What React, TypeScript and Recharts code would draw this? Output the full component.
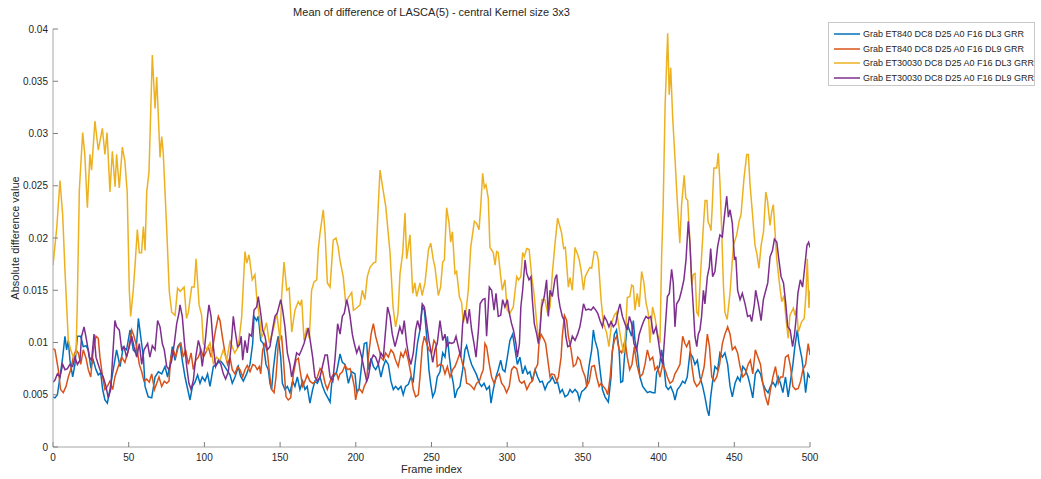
import React from 'react';
import { LineChart, Line, XAxis, YAxis } from 'recharts';

const seriesNames = [
  'Grab ET840 DC8 D25 A0 F16 DL3 GRR',
  'Grab ET840 DC8 D25 A0 F16 DL9 GRR',
  'Grab ET30030 DC8 D25 A0 F16 DL3 GRR',
  'Grab ET30030 DC8 D25 A0 F16 DL9 GRR',
];
const seriesColors = ['#0072BD', '#D95319', '#EDB120', '#7E2F8E'];

const xTicks = [0, 50, 100, 150, 200, 250, 300, 350, 400, 450, 500];
const yTicks = [0, 0.005, 0.01, 0.015, 0.02, 0.025, 0.03, 0.035, 0.04];
const yTickLabels = ['0', '0.005', '0.01', '0.015', '0.02', '0.025', '0.03', '0.035', '0.04'];

// [frame index, absolute difference value]
const et840Dl3: [number, number][] = [
  [0,.0048],[1.3,.0047],[2.9,.005],[4.6,.0067],[6.4,.0086],[7.9,.0106],[9,.0093],[10.1,.0102],[11.2,.0083],[13,.0067],[14.5,.0079],[16.1,.0106],[18.3,.0106],[20,.0096],[21.8,.0097],[23.3,.0093],[24.9,.0077],[26.6,.0083],[28.4,.0074],[29.9,.0069],[31.5,.0071],[32.8,.0055],[34.3,.0045],[35.9,.0042],[37.6,.0055],[39.8,.0074],[42,.0093],[44.3,.0077],[46.4,.0096],[48.6,.0093],[50.9,.0112],[53,.0093],[54.8,.009],[56.4,.0123],[57.9,.0106],[59.7,.0086],[60.8,.0058],[62.9,.0048],[65.2,.0047],[67.4,.0067],[69.6,.0072],[71.8,.007],[74,.0077],[75.7,.0067],[77.3,.0079],[78.8,.0096],[80.6,.0083],[82.4,.0096],[83.9,.0099],[85.4,.0083],[87.2,.0067],[89,.0055],[90.5,.0045],[92.1,.0058],[93.8,.0062],[95.5,.0069],[97.1,.0061],[98.6,.0067],[100.4,.0063],[102.1,.007],[103.7,.0058],[105.9,.0077],[108.1,.0079],[110.3,.0083],[112.5,.0079],[114.7,.0074],[116.9,.0069],[118.4,.0061],[120.2,.0067],[122.4,.0077],[123.8,.0068],[125.7,.0063],[127.9,.007],[130.1,.0079],[131.9,.0099],[132.8,.0125],[134.5,.0121],[135.6,.0125],[137.2,.0102],[138.9,.0099],[140.7,.0079],[142.2,.0074],[143.3,.0061],[144.4,.0055],[145.5,.0074],[147.3,.0096],[148.8,.0106],[150.4,.0086],[151.5,.0061],[153.2,.0055],[154.8,.0058],[156.5,.0052],[158.3,.0063],[159.8,.0058],[161.4,.0067],[163.1,.0055],[164.9,.0063],[166.4,.0055],[167.9,.0058],[169.7,.0042],[171.5,.0055],[173,.0063],[174.6,.0061],[176.4,.0067],[178.1,.0058],[179.7,.0052],[181.2,.0048],[183,.0043],[184.1,.0061],[185.2,.0067],[187.4,.0072],[189.6,.0089],[191.1,.0081],[192.9,.0079],[195.1,.0061],[197.3,.0072],[199.5,.007],[200.6,.0052],[202.1,.0055],[203.9,.0079],[205.6,.0099],[207.2,.01],[208.3,.0074],[210.1,.0085],[211.6,.0077],[213.1,.0074],[214.9,.0079],[216.6,.0067],[218.2,.0077],[219.7,.0083],[221.5,.0079],[223.2,.0063],[224.8,.0055],[226.3,.0058],[228,.0055],[229.8,.0058],[231.3,.005],[232.9,.0058],[234.7,.006],[236.4,.0067],[238,.0063],[239.1,.0079],[240.8,.01],[242.4,.0112],[243.9,.0134],[245.3,.0131],[246.8,.0106],[248.3,.0074],[249.5,.006],[250.8,.0048],[252.3,.0053],[253.8,.0067],[255.6,.0072],[257.4,.009],[258.9,.0086],[260.5,.0106],[261.8,.0086],[263.3,.0069],[264.4,.0061],[265.5,.0047],[267.1,.0055],[268.8,.0058],[270.6,.0074],[272.1,.0093],[273.2,.0097],[275,.0086],[276.5,.0079],[278.1,.0074],[279.8,.0069],[281.6,.0061],[283.1,.0058],[284.7,.0061],[286.4,.0055],[288.2,.0058],[289.3,.0042],[290.8,.0055],[292.6,.0067],[294.1,.0074],[295.7,.0083],[297,.0074],[298.5,.0072],[300.1,.0086],[301.8,.0102],[303.6,.0108],[305.2,.0093],[306.7,.0079],[308.4,.0086],[310.2,.007],[311.8,.0077],[313.5,.007],[315,.0072],[316.6,.0063],[318.4,.0074],[320.1,.0067],[321.7,.0062],[323.2,.0063],[325,.0055],[326.7,.0061],[328.3,.0063],[329.8,.0067],[331.6,.0061],[333.3,.0062],[334.9,.0052],[336.4,.0055],[338.2,.0048],[340,.005],[341.5,.0055],[343,.0052],[344.8,.0055],[346.5,.0052],[347.6,.0045],[349.2,.0053],[350.9,.0055],[352.5,.0058],[354,.0077],[355.8,.0093],[356.9,.0112],[358,.0102],[359.8,.0093],[361.3,.0074],[362.9,.0055],[364.6,.0048],[366.8,.0043],[368.6,.0067],[369.4,.009],[370.8,.0108],[372.2,.0112],[373.9,.0093],[375,.0062],[376.3,.0063],[377.8,.0093],[379.3,.0118],[380.7,.0112],[382.2,.0106],[383.3,.0121],[384.4,.0102],[386,.009],[387.7,.0067],[389.5,.0058],[391,.0055],[392.6,.0052],[394.3,.0053],[396.1,.0052],[397.6,.0052],[398.7,.0071],[400.5,.0077],[402,.0093],[403.1,.0083],[404.9,.0058],[406.4,.0055],[408,.0058],[409.7,.0052],[410.8,.0045],[412.4,.0055],[414.1,.0058],[415.9,.0063],[417.4,.0061],[418.9,.0067],[420.7,.009],[422.5,.0086],[424,.0079],[425.6,.0083],[427.3,.0067],[429.1,.0058],[430.6,.0048],[432.2,.0035],[433.3,.003],[434.4,.0048],[435.7,.0063],[437.2,.0077],[439,.0074],[440.5,.009],[442.1,.0086],[443.8,.009],[445.6,.0079],[447.2,.0058],[448.7,.0048],[450.5,.0061],[452.2,.0067],[453.8,.0063],[455.6,.0077],[457.3,.0074],[459.1,.0067],[460.6,.0058],[462.2,.0047],[463.9,.007],[465.6,.0074],[467.3,.007],[468.8,.0061],[470.6,.0055],[472.3,.0052],[473.9,.0058],[475.5,.0062],[477.2,.0058],[479,.0067],[480.5,.0061],[482.1,.0052],[483.8,.0067],[485.6,.0048],[487.1,.0063],[488.7,.0079],[490,.0096],[491.6,.0112],[492.7,.0099],[494.5,.0086],[496,.007],[497.1,.0052],[498.6,.007],[500,.0066],
];

const et840Dl9: [number, number][] = [
  [0,.0094],[1.3,.0093],[3.5,.0074],[5,.0055],[6.8,.0052],[8.6,.0058],[10.1,.0067],[11.7,.0074],[13.4,.0086],[15.2,.0093],[16.7,.009],[18.3,.0079],[20,.0093],[21.8,.0085],[23.3,.0074],[24.9,.0067],[26.6,.0093],[28.4,.0106],[29.9,.0104],[31,.0086],[32.8,.0067],[34.3,.0055],[35.9,.0058],[37.6,.0063],[39.4,.0055],[40.9,.0067],[43.1,.0077],[45.4,.0086],[47.5,.0081],[49.8,.0093],[52,.0112],[53.5,.0106],[55.3,.0096],[57,.0079],[58.6,.0072],[60.1,.0063],[61.9,.0065],[63.6,.0062],[65.2,.007],[67,.0055],[68.5,.0061],[70,.0067],[71.8,.0058],[73.5,.0063],[75.1,.0061],[76.6,.0063],[77.9,.0086],[79.5,.0093],[81,.0086],[82.8,.0096],[84.5,.0099],[86.1,.0086],[87.6,.0093],[89.4,.0079],[91.2,.009],[92.7,.0074],[94.3,.0083],[96,.0086],[97.8,.0093],[99.3,.0086],[100.8,.009],[102.6,.0096],[104.4,.0086],[105.9,.0099],[107.4,.0112],[109.2,.0125],[110.3,.0121],[111.8,.0106],[113.6,.009],[115.3,.0079],[116.9,.0086],[118.4,.0074],[120.2,.007],[121.9,.0077],[123.5,.0074],[125.3,.0067],[126.8,.0074],[128.3,.0078],[130.1,.0072],[131.9,.0079],[133.4,.0078],[134.9,.0074],[136.3,.0077],[137.2,.007],[138.5,.0093],[140,.0099],[141.6,.009],[143.3,.0067],[144.4,.0055],[146,.0052],[147.3,.0067],[148.8,.0099],[149.9,.0107],[151,.0106],[152.1,.0086],[153.9,.0048],[155.4,.0045],[157,.0047],[158.8,.007],[160.5,.0083],[162.1,.0085],[163.1,.0074],[164.9,.0058],[166.4,.0063],[167.9,.0069],[169.7,.0063],[171.5,.0061],[173,.0062],[174.6,.0067],[176.4,.0075],[178.1,.0072],[179.7,.0061],[181.2,.0055],[182.6,.0061],[184.1,.0067],[185.7,.007],[187.4,.007],[188.4,.0065],[189.6,.007],[191.1,.0072],[192.9,.0078],[194.6,.0074],[196.2,.0075],[197.7,.0067],[199,.0058],[199.9,.0045],[201.2,.0055],[202.8,.0055],[204.3,.0052],[205.6,.0058],[207.2,.0063],[208.3,.0086],[210.1,.0108],[211.6,.0118],[213.1,.0106],[214.9,.0096],[216.6,.0086],[218.2,.0083],[219.7,.009],[221.5,.0086],[223.2,.0093],[224.8,.009],[226.3,.0083],[228,.0077],[229.8,.009],[231.3,.0086],[232.9,.0093],[234.7,.0083],[236.4,.007],[238,.0055],[239.5,.0048],[241.3,.005],[242.4,.0067],[243.9,.0096],[245.3,.0106],[246.8,.0099],[248.3,.0093],[250.1,.009],[251.6,.0102],[252.9,.0099],[253.8,.0077],[255.6,.0079],[257.4,.0078],[258.9,.007],[260.5,.0077],[262.2,.0067],[264,.0074],[265.5,.0077],[267.1,.0083],[268.8,.009],[270.6,.0079],[272.1,.0074],[273.2,.0061],[275,.006],[276.5,.0058],[278.1,.0055],[279.8,.0061],[281.6,.0063],[283.1,.007],[284.2,.0074],[285.3,.0099],[286.4,.0096],[288.2,.0079],[289.7,.0067],[291.3,.0061],[293,.0067],[294.8,.007],[296.3,.0061],[297.9,.0058],[299.6,.0052],[301.4,.0058],[302.9,.0074],[304.5,.0077],[306.3,.0075],[308.1,.0063],[309.6,.0061],[311.2,.0063],[313,.0055],[315,.0061],[316.6,.0063],[318.4,.0074],[320.1,.0079],[321,.0099],[322.3,.0108],[323.9,.0104],[325.4,.0099],[327.2,.0079],[328.3,.0067],[329.4,.007],[331.2,.0069],[332.7,.0063],[333.8,.0067],[335.6,.0086],[336.4,.0106],[337.8,.0126],[339.3,.0121],[340.4,.0106],[342.2,.0093],[343.7,.0077],[345.3,.0079],[346.6,.0086],[348.2,.0083],[349.7,.0074],[351.5,.0067],[352.5,.0058],[354.2,.0063],[355.8,.0077],[357.6,.0078],[359.1,.0067],[360.7,.0058],[362,.0061],[363.5,.0058],[365.1,.0055],[366.4,.005],[368,.0067],[369.5,.0093],[370.8,.0102],[372.3,.0106],[373.9,.0093],[375.6,.009],[377.8,.0102],[379.3,.0086],[380.9,.0074],[382.4,.0079],[384,.0096],[385.6,.0079],[387.7,.0067],[389.5,.007],[391,.0079],[392.6,.0093],[394.3,.0083],[396.1,.0086],[397.6,.0074],[399.2,.0077],[400.9,.0067],[402.7,.0079],[404.3,.0074],[405.8,.0067],[407.5,.0061],[409.3,.0063],[410.8,.007],[412.4,.0074],[414.1,.0079],[415.9,.0106],[417.4,.0099],[418.5,.0096],[420.3,.0102],[421.8,.0079],[423.4,.0063],[425.2,.0058],[427,.0061],[428.5,.0067],[430.1,.0077],[431.4,.0096],[432.2,.0108],[433.6,.0096],[435.1,.0067],[436.7,.0063],[438.4,.0067],[440.3,.0079],[442.1,.0099],[443.8,.0108],[445.6,.0115],[447.2,.0108],[448.7,.0093],[450.5,.0096],[452.2,.009],[453.8,.0077],[455.6,.0067],[457.3,.007],[459.1,.0079],[460.6,.0083],[462.2,.007],[463.9,.0093],[465.6,.0086],[467.3,.0079],[468.8,.0061],[470.6,.0048],[472.3,.004],[473.9,.0055],[475.5,.0067],[477.2,.0077],[479,.0061],[480.5,.0067],[482.1,.0067],[483.8,.0086],[485.6,.0088],[487.1,.0077],[488.7,.0058],[490.4,.0055],[492.2,.0056],[493.8,.0063],[495.3,.0074],[497.1,.0079],[498.8,.0099],[500,.0088],
];

const et30030Dl3: [number, number][] = [
  [0,.0174],[2.5,.021],[4.6,.0255],[6.4,.0222],[7.9,.0169],[10.1,.0102],[11.7,.0093],[13.4,.0086],[15.2,.009],[16,.0134],[17.4,.0246],[19.6,.0301],[21,.028],[22.7,.0229],[24.4,.028],[25.5,.0265],[27.7,.0312],[29.9,.0284],[32.6,.0305],[34.3,.028],[35.7,.0301],[37.6,.0244],[39.2,.0283],[41,.0249],[42,.028],[43.8,.0248],[45.8,.0287],[47.5,.0273],[49,.0244],[50.4,.015],[51.3,.0125],[53,.015],[54.2,.0174],[55.7,.0208],[57,.0186],[58.5,.0186],[59.7,.0211],[60.8,.0188],[61.9,.0244],[63.4,.0263],[65.6,.0375],[67.4,.0324],[68.5,.0354],[70.7,.0277],[71.8,.0297],[72.8,.0282],[75,.0212],[76.8,.0149],[78.4,.0129],[80.6,.0126],[82.3,.0152],[84,.0149],[86.6,.0153],[88.2,.0123],[89.4,.0129],[91.6,.0153],[93.3,.0153],[94.5,.018],[96.5,.0136],[98.2,.0126],[99.3,.00995],[101.5,.0093],[103.7,.00995],[105.9,.008],[108,.0086],[110.3,.0083],[112.5,.0093],[114.7,.0083],[117,.0102],[118.4,.0096],[120,.009],[122.4,.0096],[124.6,.0124],[126.8,.0187],[128,.0176],[129.5,.0184],[131.6,.016],[133.4,.0165],[134.5,.0144],[136,.0128],[137.8,.0105],[139,.0109],[141,.0119],[142.9,.00995],[145.5,.0112],[147.8,.0128],[150,.0102],[151,.0144],[152.6,.0177],[154.4,.015],[156,.0152],[157.7,.011],[159.8,.0131],[162,.0139],[163.2,.0136],[164.3,.0141],[165.8,.0102],[167.5,.0114],[169.3,.0104],[170.8,.015],[172.4,.0158],[174.2,.016],[175.2,.0189],[176.4,.0205],[178.5,.0227],[179.7,.0205],[181.2,.0157],[183,.0153],[185.1,.0198],[186.9,.02],[188.4,.0191],[189.5,.0179],[191.7,.0163],[193.3,.0138],[195.5,.0144],[197.3,.0148],[198.4,.0131],[200.6,.0133],[202.8,.0136],[204.3,.015],[206,.0141],[207.6,.0163],[209.4,.0172],[211.6,.0176],[213.2,.0177],[214.9,.0233],[216,.0265],[218,.0246],[219.8,.023],[222.6,.0186],[224.6,.0134],[226.3,.0115],[227.9,.0128],[229.2,.0166],[231,.0186],[232.5,.0224],[233.6,.018],[235.8,.0203],[237.6,.0147],[239,.0157],[240.2,.0144],[242.4,.0157],[243.8,.0145],[245.7,.0157],[248,.0189],[249.5,.0195],[251.2,.0179],[252.3,.0172],[254.5,.0145],[256,.0153],[257.4,.0177],[258.5,.0179],[260,.0229],[261.6,.0214],[262.7,.0196],[263.8,.0206],[265.5,.0166],[266.6,.0168],[268.4,.0144],[269.9,.0138],[271,.0119],[272.6,.0128],[274.3,.015],[275.9,.0191],[278.3,.0216],[279.8,.0214],[281.4,.0208],[282.5,.023],[283.8,.0262],[284.9,.0248],[286,.0251],[287.5,.0238],[288.6,.0191],[290.8,.0186],[292,.0174],[293,.0187],[294.1,.0186],[295.7,.0163],[296.8,.015],[298.5,.016],[300,.0131],[301.8,.0128],[304,.0134],[306.3,.0163],[307.5,.016],[309,.0163],[310.2,.0186],[311.3,.0182],[312.9,.019],[314.5,.0189],[316.2,.0163],[317.7,.0147],[319.5,.0119],[321,.01],[322.8,.0141],[324.9,.0141],[326.7,.0128],[328.3,.0134],[329.8,.0166],[331.6,.0195],[333.3,.0219],[334.8,.0211],[335.9,.0205],[337.3,.019],[338.4,.0191],[340.4,.0153],[341.5,.0162],[343,.015],[344.8,.0191],[346.6,.0184],[347.6,.0179],[348.8,.0169],[350.4,.015],[351.5,.0163],[353.2,.0168],[354.7,.0172],[355.8,.0171],[357.5,.0187],[359.1,.0186],[360.2,.0179],[362,.0141],[363.5,.0119],[365.7,.0109],[367.2,.0096],[369,.0119],[370.7,.0126],[372.3,.0129],[373.8,.0115],[375.6,.0099],[377,.009],[378.3,.0112],[379.3,.0143],[381,.0144],[382.2,.0155],[383.3,.0154],[384.4,.0131],[385.9,.0147],[387.2,.0134],[388.8,.0168],[390.3,.0157],[391.7,.0138],[393.2,.0128],[394.3,.00995],[396,.0134],[397.6,.0124],[399.2,.0109],[400.9,.00995],[402,.0182],[403,.023],[404.3,.0327],[406,.0396],[407,.0337],[408,.0363],[409.3,.0315],[410.8,.0277],[412,.0244],[414,.0195],[415.2,.0232],[416.9,.026],[418,.0238],[419.2,.0236],[420.7,.0196],[421.9,.0155],[422.9,.0165],[424.1,.0166],[425.2,.0129],[426.3,.0126],[427.8,.0168],[429.6,.0212],[430.7,.0236],[431.9,.0236],[432.7,.0215],[433.8,.0212],[434.6,.0207],[435.4,.0229],[436.5,.0267],[438.4,.0267],[439.4,.0281],[440.5,.0254],[441.7,.0206],[442.8,.0155],[443.8,.0129],[445.3,.0122],[447.2,.0148],[449.4,.0193],[451.6,.0203],[453.3,.0217],[454.4,.0222],[456.4,.0257],[458.2,.028],[459.3,.028],[460.4,.0251],[461.9,.0225],[463.7,.0193],[465,.0184],[466.3,.0171],[467.7,.0193],[469.3,.0206],[470.8,.0244],[471.9,.0236],[473.6,.0212],[474.7,.0225],[475.8,.0232],[476.9,.0206],[478,.018],[479.7,.0158],[481.3,.0139],[482.8,.0145],[484.1,.0123],[485.6,.0104],[486.7,.0126],[489,.0133],[490.1,.0126],[491.2,.0133],[492.3,.011],[494.5,.012],[496.2,.0123],[497.4,.0148],[498.2,.018],[499.3,.0133],[500,.015],
];

const et30030Dl9: [number, number][] = [
  [0,.0062],[1.3,.0064],[2.9,.007],[4.6,.0067],[6.4,.0079],[7.9,.0074],[9.5,.0075],[11.2,.0079],[13,.0077],[14.5,.0086],[16.1,.0079],[17.8,.0083],[18.9,.0106],[20.5,.0115],[22.2,.0102],[24,.0086],[25.5,.0083],[27.1,.0108],[28.4,.0086],[29.9,.0079],[31.5,.0072],[33.2,.0067],[35,.0058],[36.5,.0047],[38.1,.0055],[39.4,.0086],[40.9,.0121],[42,.0115],[43.8,.0112],[45.4,.0093],[46.9,.0096],[48.6,.0086],[50.4,.0096],[52,.0106],[53.5,.0096],[55.3,.0086],[57,.0099],[58.6,.0079],[60.1,.0093],[62.5,.0099],[64,.0086],[65.6,.0097],[67.4,.0093],[69.1,.0121],[70.7,.0115],[72.2,.0099],[73.5,.0093],[75.1,.0077],[76.6,.0074],[78.4,.0083],[80.1,.0099],[81.7,.0118],[83.2,.0128],[83.9,.0136],[85.4,.0125],[86.7,.0102],[88.3,.0077],[89.8,.0061],[91.2,.0055],[92.7,.0064],[94.3,.0086],[96,.0102],[97.1,.0096],[98.6,.0077],[100.4,.0099],[102.1,.0125],[103,.0136],[104.4,.0125],[105.9,.0096],[107.4,.0077],[109.2,.0083],[110.9,.0079],[112.5,.007],[114,.0065],[115.8,.0072],[117.6,.0096],[119.1,.0125],[120.2,.0112],[121.9,.0096],[123.3,.0098],[124.3,.0106],[125.3,.0083],[126.8,.0102],[128.3,.009],[129.7,.0108],[131.2,.0106],[132.8,.0131],[134.5,.0134],[135.6,.0144],[137.2,.0128],[138.5,.0112],[140,.0106],[141.6,.0093],[143.3,.0096],[145,.0112],[146.6,.0125],[148.1,.0128],[149.5,.0136],[150.4,.0141],[151.7,.0131],[153.2,.0115],[154.8,.009],[156.5,.0079],[157.6,.0067],[159.2,.0077],[160.9,.009],[162.7,.0088],[164.2,.0093],[165.8,.0099],[167.5,.0108],[168.6,.0114],[170.2,.0099],[171.5,.0086],[173,.0067],[174.6,.0063],[176.4,.0067],[178.1,.0078],[179.7,.0088],[181.2,.0088],[183,.0067],[184.8,.0063],[186.3,.0085],[188,.0118],[189.6,.0108],[191.1,.0125],[192.4,.0128],[194,.0141],[195.1,.0134],[196.2,.0125],[197.7,.0108],[199,.0099],[200.6,.009],[202.1,.0096],[203.9,.0086],[205.6,.0074],[207.2,.0063],[208.3,.0067],[210.1,.0083],[211.6,.0088],[213.1,.0086],[214.9,.0079],[216.6,.009],[218.2,.0086],[219.7,.0112],[221,.0134],[222.6,.0125],[224.1,.0108],[225.9,.0096],[227.6,.0106],[229.1,.0115],[230.7,.0108],[232,.0121],[233.6,.0099],[235.1,.0086],[236.4,.0079],[238,.009],[239.5,.0112],[240.8,.0121],[242.4,.0112],[243.9,.0137],[245.3,.0134],[246.8,.0118],[248.3,.0102],[249.2,.0095],[250.8,.0081],[252.3,.0093],[253.8,.0099],[255.6,.0121],[257.4,.0102],[258.9,.0108],[260,.0096],[261.8,.01],[263.3,.0099],[264.8,.01],[266.2,.0106],[267.7,.0096],[269.3,.0086],[270.6,.0118],[272.1,.0131],[273.7,.0118],[275,.0132],[276.5,.0112],[278.1,.0099],[279.4,.0086],[281,.0112],[282.1,.0137],[283.8,.0141],[285.3,.0142],[286.4,.0106],[288.2,.0153],[289.7,.015],[291.3,.0131],[292.6,.0147],[294.1,.0125],[295.7,.0126],[297,.0141],[298.5,.0134],[300.1,.0141],[301.4,.0128],[302.9,.0118],[304.1,.0112],[305.8,.0099],[306.7,.0086],[308.1,.0099],[309,.0134],[310.2,.015],[311.8,.0179],[312.9,.0166],[314.4,.016],[315.7,.0163],[316.6,.0141],[317.9,.0118],[319.5,.0108],[320.6,.0099],[321.7,.0112],[322.8,.0134],[324.5,.0144],[326,.016],[327.2,.0125],[328.3,.015],[329.8,.0144],[331.6,.0161],[332.7,.0165],[333.8,.0144],[334.9,.0134],[336.4,.0125],[337.8,.0121],[338.7,.0106],[340,.0096],[341.5,.0097],[343,.0106],[344.8,.0102],[346.5,.0108],[348,.0115],[349.2,.0125],[350.4,.0137],[351.9,.0131],[353.7,.0132],[355.4,.0131],[356.9,.0134],[358.5,.0131],[359.8,.0128],[361.3,.0121],[362.9,.0115],[364.2,.0125],[365.7,.0121],[367.2,.0115],[368.6,.012],[370.1,.0115],[371.7,.0118],[373.4,.0131],[374.5,.0137],[376.1,.0125],[377.8,.0118],[379.3,.0112],[380.7,.0125],[382.2,.0118],[383.7,.0099],[385.5,.0093],[387.2,.0108],[388.8,.0115],[390.3,.0121],[391.7,.0125],[393.2,.0123],[394.8,.0125],[396.5,.0108],[398.3,.0115],[399.8,.0102],[401.4,.0086],[402.7,.0079],[404.3,.0112],[405.8,.0144],[407.1,.0147],[408.6,.017],[409.7,.0157],[410.8,.0115],[411.9,.0137],[413.6,.0141],[415.2,.015],[416.7,.016],[418.1,.0179],[419.6,.0216],[420.7,.0195],[421.8,.016],[422.9,.0134],[424,.0106],[425.2,.0096],[426.2,.0108],[427.3,.0112],[428.4,.0125],[429.6,.015],[430.6,.0137],[432.2,.0163],[433.5,.0172],[434.4,.019],[435.7,.0163],[437.2,.0168],[439,.0192],[440.5,.0203],[442.1,.0201],[443.4,.022],[445,.024],[446.1,.022],[447.2,.0227],[448.7,.0214],[450.1,.0179],[451,.0182],[452.2,.015],[453.8,.0141],[455.3,.0147],[457.1,.0137],[458.8,.0125],[460.4,.0126],[461.5,.012],[463.3,.0137],[464.1,.015],[465.9,.0137],[467.7,.0121],[469.2,.0141],[470.8,.015],[472.1,.0157],[473.6,.0182],[475.2,.0188],[476.5,.0199],[478.1,.0196],[479.2,.0182],[480.9,.0163],[482.5,.0157],[484,.0137],[485.3,.0115],[486.9,.0112],[488.5,.0096],[489.8,.0108],[490.7,.0121],[492,.0147],[493.6,.016],[495.1,.0153],[496.5,.0172],[498,.0193],[499.1,.0196],[500,.0191],
];

const seriesData = [et840Dl3, et840Dl9, et30030Dl3, et30030Dl9].map((pts) =>
  pts.map(([x, y]) => ({ x, y }))
);

const FONT = '"Liberation Sans", Arial, Helvetica, sans-serif';
const TEXT = '#262626';

export default function App() {
  return (
    <div style={{ position: 'absolute', left: 0, top: 0, width: 1041, height: 479, background: '#fff', fontFamily: FONT }}>
      <LineChart
        width={1041}
        height={479}
        margin={{ top: 29, right: 231, bottom: 0, left: 0 }}
      >
        <XAxis
          type="number"
          dataKey="x"
          domain={[0, 500]}
          ticks={xTicks}
          allowDataOverflow
          height={32}
          tickSize={-5}
          tickMargin={12}
          axisLine={{ stroke: '#a6a6a6', strokeWidth: 1 }}
          tickLine={{ stroke: '#7f7f7f' }}
          tick={{ fill: TEXT, fontSize: 10, fontFamily: FONT }}
        />
        <YAxis
          type="number"
          domain={[0, 0.04]}
          ticks={yTicks}
          allowDataOverflow
          width={53}
          tickSize={-5}
          tickMargin={10}
          tickFormatter={(v: number) => yTickLabels[yTicks.findIndex((t) => Math.abs(t - v) < 1e-9)] ?? String(v)}
          axisLine={{ stroke: '#a6a6a6', strokeWidth: 1 }}
          tickLine={{ stroke: '#7f7f7f' }}
          tick={{ fill: TEXT, fontSize: 10, fontFamily: FONT }}
        />
        {seriesData.map((d, i) => (
          <Line
            key={seriesNames[i]}
            data={d}
            dataKey="y"
            type="linear"
            stroke={seriesColors[i]}
            strokeWidth={1.5}
            dot={false}
            activeDot={false}
            isAnimationActive={false}
          />
        ))}
      </LineChart>

      <div style={{ position: 'absolute', left: 53, width: 757, top: 6, textAlign: 'center', fontSize: 11, color: TEXT }}>
        Mean of difference of LASCA(5) - central Kernel size 3x3
      </div>
      <div style={{ position: 'absolute', left: 53, width: 757, top: 463, textAlign: 'center', fontSize: 11, color: TEXT }}>
        Frame index
      </div>
      <div style={{ position: 'absolute', left: 15 - 150, top: 238 - 7, width: 300, lineHeight: '14px', textAlign: 'center', fontSize: 11, color: TEXT, transform: 'rotate(-90deg)' }}>
        Absolute difference value
      </div>

      <div style={{ position: 'absolute', left: 828, top: 22, width: 207, height: 64, border: '1px solid #c8c8c8', background: '#fff', boxSizing: 'border-box', paddingTop: 4 }}>
        {seriesNames.map((name, i) => (
          <div key={name} style={{ display: 'flex', alignItems: 'center', height: 14.5, fontSize: 9, color: TEXT, whiteSpace: 'nowrap' }}>
            <svg width={34} height={10} style={{ flex: 'none' }}>
              <line x1={5} y1={5} x2={31} y2={5} stroke={seriesColors[i]} strokeWidth={1.5} />
            </svg>
            <span>{name}</span>
          </div>
        ))}
      </div>
    </div>
  );
}
